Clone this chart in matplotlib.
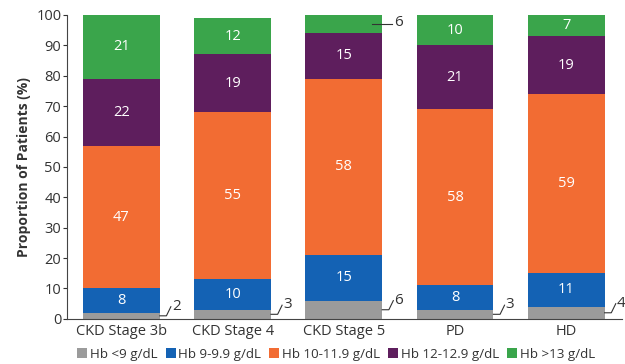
import numpy as np
import matplotlib.pyplot as plt

plt.rcParams['font.family'] = ['Open Sans', 'DejaVu Sans']

groups = ['CKD Stage 3b', 'CKD Stage 4', 'CKD Stage 5', 'PD', 'HD']
hb_lt9 = [2, 3, 6, 3, 4]
hb_9_99 = [8, 10, 15, 8, 11]
hb_10_119 = [47, 55, 58, 58, 59]
hb_12_129 = [22, 19, 15, 21, 19]
hb_gt13 = [21, 12, 6, 10, 7]
series_names = ['Hb <9 g/dL', 'Hb 9-9.9 g/dL', 'Hb 10-11.9 g/dL', 'Hb 12-12.9 g/dL', 'Hb >13 g/dL']

colors = ['#9b9b9b', '#1462b4', '#f26c33', '#5e1e5d', '#3aa54b']
series = [hb_lt9, hb_9_99, hb_10_119, hb_12_129, hb_gt13]

fig = plt.figure(figsize=(6.25, 3.64), dpi=100)
ax = fig.add_axes([0.107, 0.124, 0.888, 0.835])

x = np.arange(len(groups))
w = 0.69
bottom = np.zeros(len(groups))
for k, vals in enumerate(series):
    vals = np.array(vals, dtype=float)
    ax.bar(x, vals, w, bottom=bottom, color=colors[k], label=series_names[k], zorder=2)
    for i in range(len(groups)):
        v = vals[i]
        edge = x[i] + w / 2
        if k == 0:
            # small grey segment: callout to the right
            ym = bottom[i] + v / 2
            ax.plot([edge, edge + 0.06, edge + 0.1], [ym, ym, ym + 3], color='#333333', lw=0.8, zorder=3)
            ax.text(edge + 0.11, ym + 3.2, '%d' % v, ha='left', va='center', fontsize=11, color='#333333')
        elif k == 4 and v < 7:
            ym = bottom[i] + v / 2
            ax.plot([edge - 0.09, edge + 0.09], [ym, ym], color='#333333', lw=0.8, zorder=3)
            ax.text(edge + 0.11, ym + 0.5, '%d' % v, ha='left', va='center', fontsize=11, color='#333333')
        else:
            ax.text(x[i], bottom[i] + v / 2, '%d' % v, ha='center', va='center', fontsize=10.5, color='white', zorder=3)
    bottom += vals

ax.set_xlim(-0.49, 4.5)
ax.set_ylim(0, 100)
ax.set_yticks(np.arange(0, 101, 10))
ax.set_xticks(x)
ax.set_xticklabels(groups, fontsize=10.5, color='#333333')
ax.tick_params(axis='y', labelsize=10.5, colors='#333333', length=3, pad=1)
ax.tick_params(axis='x', length=0, pad=4)
ax.set_ylabel('Proportion of Patients (%)', fontsize=10, fontweight='bold', color='#333333', labelpad=4)
ax.spines['top'].set_visible(False)
ax.spines['right'].set_visible(False)
ax.spines['left'].set_color('#444444')
ax.spines['bottom'].set_color('#444444')

ax.legend(loc='center', bbox_to_anchor=(0.485, -0.117), ncol=5, frameon=False,
          fontsize=9.6, handlelength=0.75, handleheight=0.75, handletextpad=0.2,
          columnspacing=0.6, labelcolor='#333333', borderpad=0)

fig.savefig('out.png', dpi=100)
